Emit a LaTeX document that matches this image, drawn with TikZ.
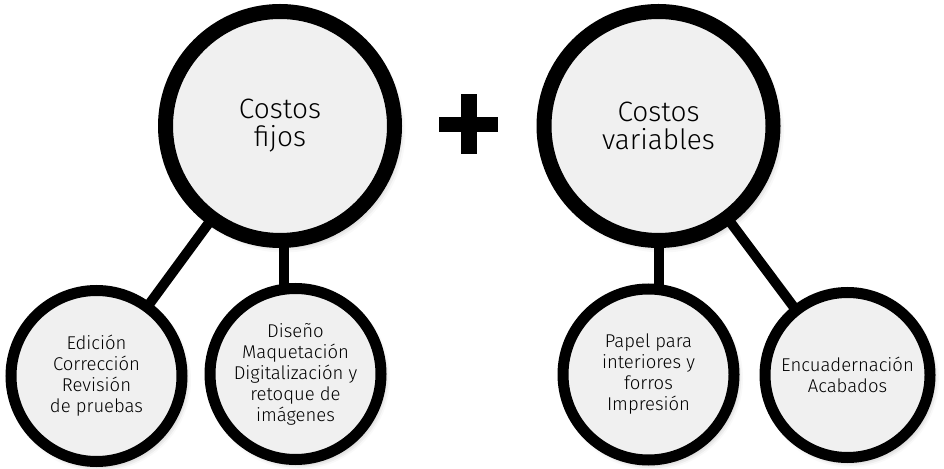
\documentclass[tikz,border=0pt]{standalone}
\usepackage{fontspec}
\setmainfont{Fira Sans Light}
\usetikzlibrary{shadows.blur}
\definecolor{circfill}{RGB}{240,240,240}
\tikzset{
  bigcirc/.style={circle, draw=black, line width=15pt, fill=circfill, inner sep=0pt,
    minimum size=229pt, align=center, font=\fontsize{28}{28}\selectfont,
    blur shadow={shadow xshift=4pt, shadow yshift=-5pt, shadow blur radius=7pt, shadow opacity=35}},
  smallcirc/.style={circle, draw=black, line width=11pt, fill=circfill, inner sep=0pt,
    minimum size=171pt, align=center, font=\fontsize{18.5}{21}\selectfont,
    blur shadow={shadow xshift=3pt, shadow yshift=-4pt, shadow blur radius=6pt, shadow opacity=35}},
  link/.style={draw=black, line width=10pt},
}
\begin{document}
\begin{tikzpicture}[x=1pt,y=1pt]
\useasboundingbox (0,0) rectangle (944,468);
% connectors (behind the circles)
\coordinate (bigLc) at (280,342);
\coordinate (bigRc) at (658.5,342);
\coordinate (L1c) at (96.5,92);
\coordinate (L2c) at (295.5,94);
\coordinate (R1c) at (648.5,93.5);
\coordinate (R2c) at (847.5,89);
\draw[link] (bigLc) -- (L1c);
\draw[link] ([xshift=4pt]bigLc) -- ([xshift=4pt]bigLc |- L2c);
\draw[link] (bigRc) -- (bigRc |- R1c);
\draw[link] (bigRc) -- (R2c);
% circles
\node[bigcirc] (bigL) at (bigLc) {Costos\\fijos};
\node[bigcirc] (bigR) at (bigRc) {Costos\\variables};
\node[smallcirc] (L1) at (L1c) {Edición\\Corrección\\Revisión\\de pruebas};
\node[smallcirc] (L2) at (L2c) {Diseño\\Maquetación\\Digitalización y\\retoque de\\imágenes};
\node[smallcirc] (R1) at (R1c) {Papel para\\interiores y\\forros\\Impresión};
\node[smallcirc, minimum size=165pt] (R2) at ([yshift=4pt]R2c) {Encuadernación\\Acabados};
% plus sign
\coordinate (plus) at (468.5,343.5);
\fill[black] ([xshift=-29.5pt,yshift=-7.5pt]plus) rectangle ([xshift=29.5pt,yshift=7.5pt]plus);
\fill[black] ([xshift=-8pt,yshift=-30pt]plus) rectangle ([xshift=8pt,yshift=30pt]plus);
\end{tikzpicture}
\end{document}
